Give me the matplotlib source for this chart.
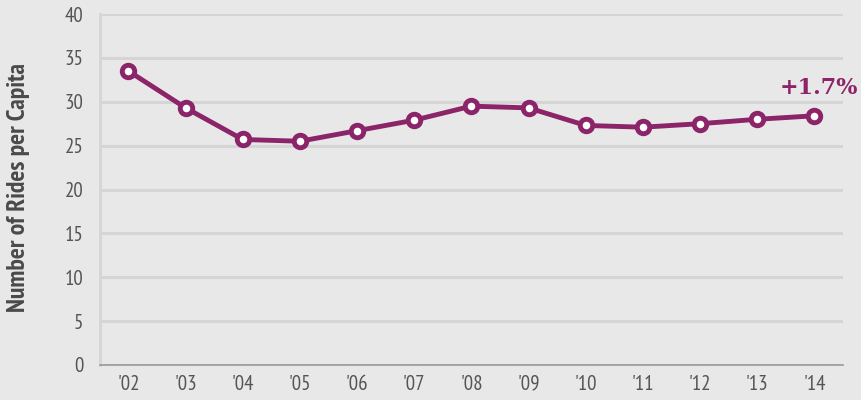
import matplotlib
matplotlib.use("Agg")
import matplotlib.pyplot as plt
from matplotlib.font_manager import FontProperties

# Rides per capita, 2002-2014
years = ["'02", "'03", "'04", "'05", "'06", "'07", "'08", "'09", "'10", "'11", "'12", "'13", "'14"]
rides = [33.5, 29.3, 25.7, 25.5, 26.7, 27.9, 29.5, 29.3, 27.3, 27.1, 27.5, 28.0, 28.4]
change_label = "+1.7%"

BG = "#e8e8e8"
PURPLE = "#8b2468"
TEXT = "#555555"

plt.rcParams["font.family"] = ["PT Sans Narrow", "DejaVu Sans"]

fig = plt.figure(figsize=(8.61, 4.0), dpi=100, facecolor=BG)
ax = fig.add_axes([0.116, 0.0875, 0.863, 0.8775], facecolor=BG)

x = list(range(len(years)))
ax.plot(x, rides, color=PURPLE, lw=3.5, marker="o", markersize=9,
        markerfacecolor="white", markeredgecolor=PURPLE, markeredgewidth=3.5,
        zorder=3, clip_on=False)

# slab-style callout for the latest year
slab = FontProperties(family="DejaVu Serif", weight="bold", size=16)
ax.annotate(change_label, (x[-1], rides[-1]), xytext=(3, 12), textcoords="offset points",
            ha="center", va="bottom", color=PURPLE, fontproperties=slab,
            annotation_clip=False)

ax.set_xlim(-0.5, 12.5)
ax.set_ylim(0, 40)
ax.set_yticks(range(0, 41, 5))
ax.set_xticks(x)
ax.set_xticklabels(years)
ax.grid(axis="y", color="#d5d5d5", lw=2.2)
ax.set_axisbelow(True)

for side in ("top", "right"):
    ax.spines[side].set_visible(False)
ax.spines["left"].set_color("#d5d5d5")
ax.spines["left"].set_linewidth(2)
ax.spines["bottom"].set_color("#999999")
ax.spines["bottom"].set_linewidth(1.2)

ax.tick_params(axis="both", length=0, labelsize=15, colors=TEXT)
ax.tick_params(axis="x", pad=7)
ax.tick_params(axis="y", pad=12)

ax.set_ylabel("Number of Rides per Capita", fontsize=18.5, fontweight="bold",
              color="#4a4a4a")
ax.yaxis.set_label_coords(-0.094, 0.505)

fig.savefig("out.png", dpi=100, facecolor=BG)
